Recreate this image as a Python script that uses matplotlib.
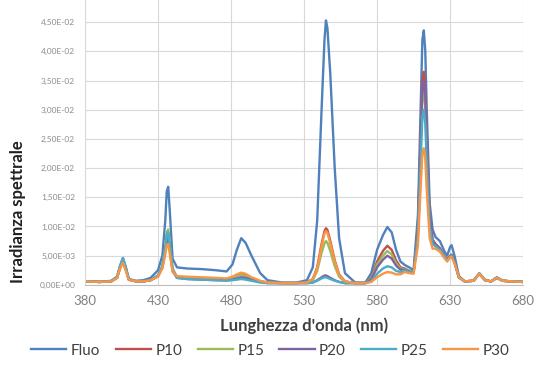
import matplotlib
matplotlib.use("Agg")
import matplotlib.pyplot as plt
from matplotlib.ticker import FuncFormatter, MultipleLocator

plt.rcParams["font.family"] = ["Lato", "DejaVu Sans"]

# Wavelength grid (nm) and spectral irradiance
wavelength = [380, 390, 398, 402, 404, 406, 408, 410, 415, 420,
              425, 430, 433, 435, 436, 437, 438, 440, 443, 450,
              460, 470, 477, 481, 484, 487, 490, 494, 500, 505,
              515, 525, 532, 536, 539, 542, 544, 545, 546, 548,
              551, 554, 558, 565, 572, 576, 580, 584, 587, 590,
              593, 596, 599, 602, 605, 608, 610, 611, 612, 613,
              614, 616, 618, 620, 623, 626, 628, 630, 631, 633,
              636, 640, 646, 650, 654, 658, 662, 666, 672, 680]

fluo = [.0006, .0005, .0007, .0014, .0032, .0046, .0030, .0010, .0007, .0008,
        .0012, .0025, .0050, .0110, .0160, .0168, .0130, .0045, .0030, .0028,
        .0027, .0025, .0023, .0035, .0060, .0080, .0072, .0050, .0020, .0008,
        .0004, .0004, .0008, .0030, .0110, .0300, .0420, .0453, .0440, .0360,
        .0200, .0080, .0020, .0004, .0004, .0020, .0060, .0085, .0099, .0090,
        .0060, .0040, .0034, .0030, .0025, .0120, .0320, .0420, .0436, .0400,
        .0300, .0140, .0095, .0082, .0075, .0058, .0050, .0065, .0068, .0050,
        .0015, .0006, .0007, .0020, .0008, .0006, .0013, .0007, .0006, .0005]

p10 = [.0006, .0005, .0006, .0012, .0028, .0040, .0026, .0009, .0006, .0006,
       .0008, .0015, .0030, .0060, .0080, .0085, .0065, .0025, .0013, .0011,
       .0010, .0009, .0009, .0012, .0016, .0019, .0017, .0012, .0006, .0004,
       .0003, .0003, .0004, .0010, .0030, .0070, .0092, .0097, .0094, .0075,
       .0042, .0018, .0006, .0003, .0003, .0012, .0040, .0058, .0067, .0060,
       .0042, .0030, .0028, .0024, .0022, .0100, .0270, .0350, .0365, .0335,
       .0252, .0120, .0078, .0070, .0063, .0050, .0043, .0050, .0052, .0040,
       .0013, .0006, .0007, .0019, .0008, .0006, .0012, .0007, .0006, .0005]

p15 = [.0006, .0005, .0006, .0012, .0030, .0042, .0028, .0009, .0006, .0006,
       .0008, .0016, .0032, .0065, .0090, .0095, .0072, .0028, .0014, .0012,
       .0011, .0010, .0009, .0012, .0015, .0017, .0015, .0011, .0006, .0004,
       .0003, .0003, .0004, .0008, .0024, .0055, .0071, .0075, .0072, .0058,
       .0032, .0014, .0005, .0003, .0003, .0011, .0035, .0050, .0058, .0052,
       .0037, .0028, .0027, .0024, .0022, .0092, .0245, .0318, .0330, .0305,
       .0230, .0110, .0074, .0068, .0061, .0049, .0042, .0049, .0051, .0039,
       .0013, .0006, .0007, .0019, .0008, .0006, .0012, .0007, .0006, .0005]

p20 = [.0006, .0005, .0006, .0013, .0030, .0044, .0028, .0009, .0006, .0006,
       .0008, .0015, .0030, .0058, .0078, .0080, .0062, .0024, .0012, .0010,
       .0009, .0008, .0008, .0009, .0011, .0013, .0012, .0009, .0005, .0003,
       .0003, .0003, .0003, .0004, .0008, .0013, .0016, .0016, .0015, .0012,
       .0008, .0005, .0003, .0003, .0003, .0009, .0030, .0043, .0050, .0045,
       .0033, .0026, .0026, .0023, .0021, .0096, .0260, .0336, .0350, .0322,
       .0242, .0116, .0076, .0069, .0062, .0049, .0042, .0049, .0051, .0039,
       .0013, .0006, .0007, .0019, .0008, .0006, .0012, .0007, .0006, .0005]

p25 = [.0006, .0005, .0006, .0013, .0032, .0046, .0030, .0010, .0006, .0006,
       .0008, .0016, .0031, .0062, .0086, .0090, .0068, .0026, .0012, .0010,
       .0009, .0008, .0007, .0008, .0009, .0010, .0009, .0007, .0004, .0003,
       .0003, .0003, .0003, .0004, .0007, .0011, .0013, .0013, .0012, .0010,
       .0007, .0005, .0003, .0003, .0003, .0006, .0019, .0028, .0032, .0030,
       .0024, .0022, .0025, .0022, .0021, .0085, .0222, .0288, .0300, .0276,
       .0208, .0100, .0070, .0066, .0060, .0048, .0041, .0048, .0050, .0038,
       .0013, .0006, .0007, .0019, .0008, .0006, .0012, .0007, .0006, .0005]

p30 = [.0006, .0005, .0006, .0012, .0028, .0038, .0024, .0009, .0006, .0006,
       .0008, .0014, .0028, .0052, .0068, .0070, .0055, .0022, .0015, .0014,
       .0013, .0012, .0011, .0014, .0018, .0021, .0019, .0013, .0007, .0004,
       .0003, .0003, .0004, .0010, .0028, .0066, .0088, .0092, .0089, .0071,
       .0040, .0017, .0006, .0003, .0003, .0005, .0013, .0019, .0022, .0021,
       .0018, .0018, .0022, .0020, .0019, .0068, .0175, .0226, .0234, .0216,
       .0163, .0080, .0062, .0062, .0057, .0046, .0040, .0047, .0048, .0037,
       .0013, .0006, .0007, .0019, .0008, .0006, .0012, .0007, .0006, .0005]

series_names = ["Fluo", "P10", "P15", "P20", "P25", "P30"]
series_values = [fluo, p10, p15, p20, p25, p30]
colors = ["#4F81BD", "#C0504D", "#9BBB59", "#8064A2", "#4BACC6", "#F79646"]
x_ticks = [380, 430, 480, 530, 580, 630, 680]

fig = plt.figure(figsize=(5.41, 3.69), dpi=100)
ax = fig.add_axes([0.157, 0.228, 0.81, 0.772])

for name, vals, col in zip(series_names, series_values, colors):
    ax.plot(wavelength, vals, color=col, lw=1.7, label=name)

ax.set_xlim(380, 680)
ax.set_ylim(0, 0.0488)
ax.set_xticks(x_ticks)
ax.yaxis.set_major_locator(MultipleLocator(0.005))
ax.yaxis.set_major_formatter(
    FuncFormatter(lambda v, p: f"{v:.2E}".replace(".", ",")))

ax.grid(True, color="#d9d9d9", lw=0.8)
ax.set_axisbelow(True)
for s in ["top", "right"]:
    ax.spines[s].set_visible(False)
ax.spines["left"].set_color("#d9d9d9")
ax.spines["bottom"].set_color("#bfbfbf")
ax.tick_params(length=0)
ax.tick_params(axis="y", labelsize=6, labelcolor="#8c8c8c", pad=7)
ax.tick_params(axis="x", labelsize=9.5, labelcolor="#808080", pad=7)

ax.set_xlabel("Lunghezza d'onda (nm)", fontsize=12, fontweight="bold",
              color="#404040", labelpad=8)
ax.set_ylabel("Irradianza spettrale", fontsize=12, fontweight="bold",
              color="#202020")
ax.yaxis.set_label_coords(-0.135, 0.256)

fig.legend(loc="center", bbox_to_anchor=(0.5, 0.05), ncol=6, frameon=False,
           fontsize=11, handlelength=2.3, columnspacing=1.0, handletextpad=0.3,
           labelcolor="#404040")

fig.savefig("out.png", dpi=100)
